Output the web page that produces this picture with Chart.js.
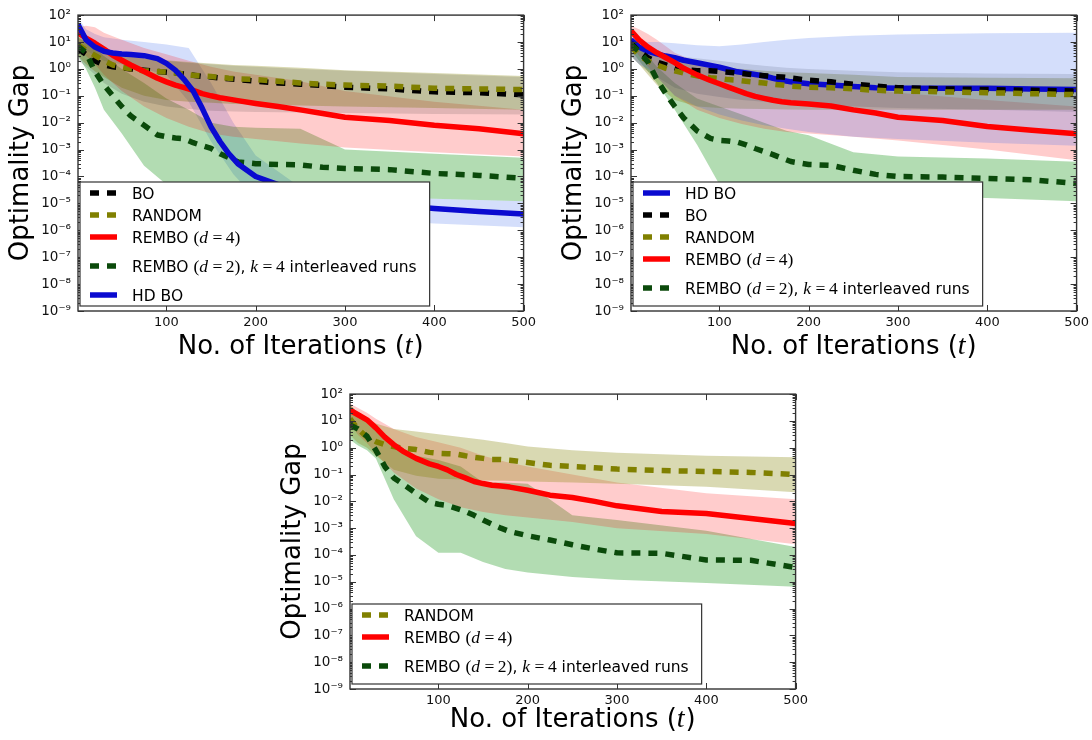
<!DOCTYPE html>
<html>
<head>
<meta charset="utf-8">
<script src="https://cdn.jsdelivr.net/npm/chart.js@4.4.1/dist/chart.umd.min.js"></script>
<style>
  body { margin: 0; background: #fff; width: 1092px; height: 740px; position: relative; overflow: hidden; }
  canvas { position: absolute; }
</style>
</head>
<body>
<canvas id="c1" width="540" height="370" style="left:0;top:0"></canvas>
<canvas id="c2" width="540" height="370" style="left:553px;top:0"></canvas>
<canvas id="c3" width="540" height="361" style="left:272px;top:379px"></canvas>
<script>
// iterations for the mean curves and for the percentile bands
var X  = [1, 10, 20, 30, 40, 50, 60, 75, 90, 100, 110, 120, 130, 140, 150, 160, 170, 180, 200, 225, 250, 275, 300, 350, 400, 450, 500];
var XB = [1, 10, 20, 30, 50, 75, 100, 125, 150, 175, 200, 250, 300, 400, 500];
var X_TICKS = [100, 200, 300, 400, 500];
var Y_EXP = [-9, -8, -7, -6, -5, -4, -3, -2, -1, 0, 1, 2];

var L_HDBO = 'HD BO', L_BO = 'BO', L_RANDOM = 'RANDOM';
var L_REMBO4 = 'REMBO $(d=4)$';
var L_REMBO2 = 'REMBO $(d=2)$, $k=4$ interleaved runs';

// top left
var A_BO      = [5.5, 3.5, 2, 1.4, 1.2, 1.1, 1.0, 0.9, 0.8, 0.75, 0.7, 0.64, 0.58, 0.53, 0.5, 0.46, 0.43, 0.4, 0.35, 0.3, 0.27, 0.24, 0.21, 0.18, 0.14, 0.13, 0.11];
var A_RANDOM  = [8, 5, 3.2, 2, 1.4, 1.15, 1, 0.85, 0.8, 0.77, 0.7, 0.63, 0.58, 0.55, 0.52, 0.48, 0.45, 0.43, 0.4, 0.35, 0.3, 0.27, 0.25, 0.23, 0.19, 0.18, 0.17];
var A_REMBO4  = [22, 14, 9, 5.5, 3.2, 2.1, 1.4, 0.8, 0.45, 0.33, 0.25, 0.2, 0.16, 0.12, 0.1, 0.085, 0.075, 0.066, 0.052, 0.04, 0.03, 0.022, 0.016, 0.012, 0.008, 0.006, 0.0039];
var A_REMBO2  = [7, 4, 0.8, 0.25, 0.1, 0.04, 0.018, 0.008, 0.0035, 0.003, 0.0027, 0.0025, 0.0018, 0.0014, 0.0011, 7e-4, 5e-4, 3.5e-4, 3e-4, 2.8e-4, 2.7e-4, 2.2e-4, 2e-4, 1.8e-4, 1.3e-4, 1.1e-4, 8.5e-5];
var A_HDBO    = [45, 12, 6.5, 4.5, 3.9, 3.6, 3.4, 3.1, 2.4, 1.6, 0.9, 0.4, 0.15, 0.035, 0.007, 0.002, 7e-4, 3e-4, 1e-4, 5e-5, 3e-5, 2e-5, 1.5e-5, 9e-6, 6.5e-6, 5e-6, 4e-6];
var A_BO_HI     = [15, 9, 6, 4.5, 3, 2.4, 2, 1.7, 1.5, 1.3, 1.2, 1, 0.85, 0.65, 0.5];
var A_BO_LO     = [2, 1.2, 0.6, 0.3, 0.12, 0.06, 0.04, 0.032, 0.028, 0.026, 0.025, 0.024, 0.023, 0.021, 0.02];
var A_RANDOM_HI = [20, 10, 6, 4.5, 3.2, 2.5, 2.1, 1.8, 1.6, 1.4, 1.3, 1.1, 0.9, 0.7, 0.55];
var A_RANDOM_LO = [3, 1.5, 0.8, 0.5, 0.2, 0.1, 0.07, 0.06, 0.055, 0.05, 0.048, 0.044, 0.04, 0.035, 0.03];
var A_REMBO4_HI = [35, 40, 35, 22, 12, 6, 3.5, 2, 1.2, 0.8, 0.6, 0.35, 0.15, 0.06, 0.03];
var A_REMBO4_LO = [6, 3, 1.5, 0.6, 0.15, 0.04, 0.015, 0.007, 0.004, 0.003, 0.0025, 0.0017, 0.0012, 8e-4, 5.5e-4];
var A_REMBO2_HI = [15, 10, 6, 3, 1, 0.3, 0.08, 0.03, 0.01, 0.007, 0.0065, 0.006, 0.001, 7e-4, 5e-4];
var A_REMBO2_LO = [3, 1, 0.2, 0.03, 0.004, 2.5e-4, 5e-5, 3.5e-5, 3e-5, 2.7e-5, 2.5e-5, 2.2e-5, 2e-5, 1.5e-5, 1.2e-5];
var A_HDBO_HI   = [80, 30, 20, 15, 12, 10, 8, 6, 0.3, 0.01, 6e-4, 4e-5, 2.5e-5, 1.5e-5, 1.2e-5];
var A_HDBO_LO   = [20, 5, 3, 2, 1.5, 1, 0.6, 0.06, 0.002, 1.2e-4, 1.5e-5, 5e-6, 3e-6, 1.8e-6, 1.3e-6];

// top right
var B_HDBO    = [12, 6.5, 4.5, 3.6, 3, 2.6, 2.1, 1.7, 1.35, 1.15, 0.95, 0.78, 0.7, 0.62, 0.55, 0.45, 0.38, 0.33, 0.28, 0.25, 0.22, 0.2, 0.19, 0.19, 0.19, 0.18, 0.17];
var B_BO      = [9, 4.5, 2.6, 1.8, 1.4, 1.1, 0.95, 0.85, 0.85, 0.8, 0.75, 0.7, 0.65, 0.6, 0.56, 0.52, 0.5, 0.46, 0.38, 0.33, 0.27, 0.23, 0.2, 0.18, 0.17, 0.16, 0.15];
var B_RANDOM  = [7, 3.2, 2, 1.4, 1.05, 0.85, 0.7, 0.55, 0.47, 0.44, 0.4, 0.38, 0.35, 0.32, 0.3, 0.27, 0.25, 0.23, 0.21, 0.2, 0.18, 0.16, 0.15, 0.14, 0.13, 0.12, 0.11];
var B_REMBO4  = [26, 12, 6.5, 4, 2.6, 1.7, 1.05, 0.6, 0.37, 0.28, 0.21, 0.16, 0.12, 0.095, 0.08, 0.068, 0.06, 0.055, 0.05, 0.042, 0.03, 0.023, 0.016, 0.012, 0.0072, 0.0052, 0.0039];
var B_REMBO2  = [8, 4.5, 1.8, 0.4, 0.12, 0.04, 0.015, 0.005, 0.0026, 0.0022, 0.0021, 0.0019, 0.0015, 0.0011, 8.5e-4, 6.5e-4, 4.8e-4, 3.6e-4, 2.8e-4, 2.6e-4, 1.7e-4, 1.2e-4, 1e-4, 9.5e-5, 8.5e-5, 7.5e-5, 5.5e-5];
var B_HDBO_HI   = [12, 11, 10, 10, 9, 7.5, 7, 8, 10, 12, 14, 17, 19, 21, 22];
var B_HDBO_LO   = [3, 1.5, 1, 0.5, 0.1, 0.04, 0.02, 0.012, 0.008, 0.006, 0.0045, 0.003, 0.0025, 0.0018, 0.0014];
var B_BO_HI     = [10, 8, 6, 4.5, 3, 2.5, 2, 1.6, 1.3, 1.1, 1, 0.85, 0.75, 0.68, 0.65];
var B_BO_LO     = [3, 1.5, 0.8, 0.5, 0.2, 0.12, 0.09, 0.07, 0.06, 0.05, 0.045, 0.04, 0.035, 0.03, 0.025];
var B_RANDOM_HI = [15, 8, 5, 3.5, 2, 1.5, 1.2, 1, 0.85, 0.75, 0.7, 0.6, 0.5, 0.47, 0.45];
var B_RANDOM_LO = [3, 1.5, 0.6, 0.25, 0.07, 0.04, 0.035, 0.033, 0.032, 0.031, 0.03, 0.03, 0.03, 0.03, 0.03];
var B_REMBO4_HI = [40, 30, 20, 12, 4, 1.8, 1, 0.7, 0.5, 0.38, 0.3, 0.2, 0.13, 0.07, 0.04];
var B_REMBO4_LO = [8, 3, 1.2, 0.5, 0.1, 0.03, 0.015, 0.009, 0.006, 0.0045, 0.004, 0.003, 0.0022, 0.001, 4e-4];
var B_REMBO2_HI = [15, 8, 3, 1.2, 0.3, 0.08, 0.04, 0.02, 0.01, 0.005, 0.0034, 8e-4, 5.5e-4, 4.7e-4, 3.5e-4];
var B_REMBO2_LO = [5, 2, 0.8, 0.3, 0.03, 1.5e-3, 5e-5, 3e-5, 2.5e-5, 2.2e-5, 2e-5, 1.9e-5, 1.8e-5, 1.6e-5, 1.2e-5];

// bottom
var C_RANDOM  = [12, 5, 2.5, 1.7, 1.3, 1.1, 0.95, 0.85, 0.67, 0.62, 0.6, 0.58, 0.5, 0.44, 0.4, 0.36, 0.36, 0.34, 0.28, 0.22, 0.2, 0.18, 0.16, 0.14, 0.13, 0.12, 0.1];
var C_REMBO4  = [25, 17, 11, 5.5, 2.5, 1.3, 0.75, 0.4, 0.25, 0.2, 0.15, 0.1, 0.075, 0.055, 0.046, 0.04, 0.037, 0.034, 0.026, 0.017, 0.014, 0.01, 0.0068, 0.0042, 0.0035, 0.0023, 0.0015];
var C_REMBO2  = [7, 5, 2.7, 0.8, 0.2, 0.075, 0.045, 0.02, 0.0092, 0.0078, 0.007, 0.0055, 0.0042, 0.003, 0.002, 0.0014, 0.001, 7.5e-4, 5.2e-4, 3.6e-4, 2.4e-4, 1.65e-4, 1.2e-4, 1.15e-4, 6.5e-5, 6.3e-5, 3.4e-5];
var C_RANDOM_HI = [40, 20, 12, 8, 5, 4, 3.2, 2.5, 2, 1.5, 1.1, 0.8, 0.65, 0.5, 0.44];
var C_RANDOM_LO = [3, 1.5, 1, 0.5, 0.15, 0.09, 0.07, 0.065, 0.06, 0.058, 0.055, 0.05, 0.045, 0.035, 0.022];
var C_REMBO4_HI = [45, 30, 20, 12, 5, 2.5, 1.6, 1, 0.5, 0.3, 0.2, 0.1, 0.05, 0.02, 0.012];
var C_REMBO4_LO = [8, 3, 1.5, 0.6, 0.12, 0.03, 0.012, 0.006, 0.004, 0.003, 0.0025, 0.0017, 0.001, 6e-4, 2.5e-4];
var C_REMBO2_HI = [40, 20, 10, 4, 1.5, 0.5, 0.35, 0.2, 0.05, 0.05, 0.045, 0.003, 0.002, 8e-4, 2e-4];
var C_REMBO2_LO = [2, 1.2, 0.8, 0.4, 0.012, 5e-4, 1.2e-4, 1.2e-4, 5.5e-5, 3e-5, 2.2e-5, 1.5e-5, 1.2e-5, 9e-6, 6.5e-6];

var STYLE = {};
STYLE[L_HDBO]   = { color: '#0a0ad0', band: 'rgba(40,90,235,0.2)', dash: [] };
STYLE[L_BO]     = { color: '#000000', band: 'rgba(0,0,0,0.12)', dash: [9, 8] };
STYLE[L_RANDOM] = { color: '#808000', band: 'rgba(128,128,0,0.3)', dash: [9, 8] };
STYLE[L_REMBO4] = { color: '#ff0000', band: 'rgba(255,0,0,0.2)', dash: [] };
STYLE[L_REMBO2] = { color: '#0b4a0b', band: 'rgba(0,140,0,0.3)', dash: [9, 8] };

var SUP = { '-': '\u207b', '0': '\u2070', '1': '\u00b9', '2': '\u00b2', '3': '\u00b3', '4': '\u2074',
            '5': '\u2075', '6': '\u2076', '7': '\u2077', '8': '\u2078', '9': '\u2079' };

function pts(xs, ys) {
  return xs.map(function(x, i) { return { x: x, y: ys[i] }; });
}

// split "text $math$ text" into runs with their own fonts
function richParts(text, size, mathSize) {
  var parts = [];
  text.split('$').forEach(function(s, i) {
    if (!s) return;
    if (i % 2 === 0) { parts.push({ t: s, font: size + 'px "DejaVu Sans"', pad: 0 }); return; }
    s.split('').forEach(function(c) {
      if (/[a-z]/i.test(c)) parts.push({ t: c, font: 'italic ' + mathSize + 'px "Liberation Serif"', pad: 0, it: 1 });
      else parts.push({ t: c, font: mathSize + 'px "Liberation Serif"', pad: c === '=' ? mathSize * 0.2 : 0 });
    });
  });
  return parts;
}
function richWidth(ctx, parts) {
  var w = 0;
  parts.forEach(function(p) { ctx.font = p.font; w += ctx.measureText(p.t).width + 2 * p.pad + (p.it ? 1 : 0); });
  return w;
}
function drawRich(ctx, parts, x, base) {
  parts.forEach(function(p) {
    ctx.font = p.font;
    x += p.pad;
    ctx.fillText(p.t, x, base);
    x += ctx.measureText(p.t).width + p.pad + (p.it ? 1 : 0);
  });
}

var frame = {
  id: 'frame',
  afterDatasetsDraw: function(chart) {
    var ctx = chart.ctx, a = chart.chartArea, xs = chart.scales.x, ys = chart.scales.y;
    ctx.save();
    ctx.strokeStyle = '#333';
    ctx.lineWidth = 1;
    ctx.beginPath();
    xs.ticks.forEach(function(t) {
      var px = Math.round(xs.getPixelForValue(t.value)) + 0.5;
      ctx.moveTo(px, a.bottom); ctx.lineTo(px, a.bottom - 6);
      ctx.moveTo(px, a.top); ctx.lineTo(px, a.top + 6);
    });
    ys.ticks.forEach(function(t) {
      var py = Math.round(ys.getPixelForValue(t.value)) + 0.5, len = t.major ? 6 : 3;
      ctx.moveTo(a.left, py); ctx.lineTo(a.left + len, py);
      ctx.moveTo(a.right, py); ctx.lineTo(a.right - len, py);
    });
    ctx.stroke();
    ctx.lineWidth = 1.4;
    ctx.strokeRect(a.left, a.top, a.right - a.left, a.bottom - a.top);
    ctx.restore();
  }
};

var legendBox = {
  id: 'legendBox',
  afterDatasetsDraw: function(chart) {
    var ctx = chart.ctx, a = chart.chartArea;
    var rows = chart.data.datasets.filter(function(d) { return !d.isBand; }).map(function(d) {
      return { d: d, parts: richParts(d.label, 15.5, 17.5), h: d.label.indexOf('$') >= 0 ? 29 : 22 };
    });
    var textX = 52, maxW = 0, h = 0;
    rows.forEach(function(r) { maxW = Math.max(maxW, richWidth(ctx, r.parts)); h += r.h; });
    var w = textX + maxW + 13;
    var x0 = a.left + 2, y0 = a.bottom - 5 - h;
    ctx.save();
    ctx.fillStyle = '#fff';
    ctx.fillRect(x0, y0, w, h);
    ctx.strokeStyle = '#333';
    ctx.lineWidth = 1.2;
    ctx.strokeRect(x0, y0, w, h);
    var y = y0;
    rows.forEach(function(r) {
      var cy = y + 11;
      ctx.strokeStyle = r.d.borderColor;
      ctx.lineWidth = r.d.borderWidth;
      ctx.lineCap = 'butt';
      ctx.setLineDash(r.d.borderDash || []);
      ctx.beginPath();
      ctx.moveTo(x0 + 10, cy); ctx.lineTo(x0 + 37, cy);
      ctx.stroke();
      ctx.setLineDash([]);
      ctx.fillStyle = '#000';
      ctx.textBaseline = 'alphabetic';
      drawRich(ctx, r.parts, x0 + textX, cy + 5.6);
      y += r.h;
    });
    ctx.restore();
  }
};

var xTitle = {
  id: 'xTitle',
  afterDraw: function(chart, args, opts) {
    var ctx = chart.ctx, a = chart.chartArea;
    var parts = richParts(opts.text, 26, 28);
    var w = richWidth(ctx, parts);
    ctx.save();
    ctx.fillStyle = '#000';
    ctx.textBaseline = 'alphabetic';
    drawRich(ctx, parts, (a.left + a.right) / 2 - w / 2, a.bottom + opts.offset + 9.4);
    ctx.restore();
  }
};

function makeChart(id, series, xh, tOff) {
  var datasets = [];
  series.forEach(function(s) {
    var st = STYLE[s[0]];
    datasets.push({ label: s[0], isBand: true, data: pts(XB, s[2]), borderColor: 'rgba(0,0,0,0)',
      borderWidth: 0, pointRadius: 0, fill: false, order: 100, clip: 0 });
    datasets.push({ label: s[0], isBand: true, data: pts(XB, s[3]), borderColor: 'rgba(0,0,0,0)',
      borderWidth: 0, pointRadius: 0, fill: '-1', backgroundColor: st.band, order: 100, clip: 0 });
  });
  series.forEach(function(s, i) {
    var st = STYLE[s[0]];
    datasets.push({ label: s[0], data: pts(X, s[1]), borderColor: st.color, borderWidth: 5.5,
      borderDash: st.dash, borderCapStyle: 'butt', borderJoinStyle: 'round', pointRadius: 0,
      fill: false, tension: 0, order: series.length - i, clip: 0 });
  });

  new Chart(document.getElementById(id), {
    type: 'line',
    data: { datasets: datasets },
    plugins: [frame, legendBox, xTitle],
    options: {
      responsive: false,
      animation: false,
      events: [],
      layout: { padding: { left: 0, right: 15, top: 12, bottom: 0 } },
      plugins: {
        legend: { display: false },
        tooltip: { enabled: false },
        xTitle: { text: 'No. of Iterations ($t$)', offset: tOff }
      },
      scales: {
        x: {
          type: 'linear', min: 1, max: 500,
          afterBuildTicks: function(s) { s.ticks = X_TICKS.map(function(v) { return { value: v }; }); },
          afterFit: function(s) { s.height = xh; },
          grid: { display: false, drawTicks: false },
          border: { display: false },
          ticks: { font: { family: 'DejaVu Sans', size: 13 }, color: '#111', padding: 4, maxRotation: 0, autoSkip: false }
        },
        y: {
          type: 'logarithmic', min: 1e-9, max: 100,
          afterBuildTicks: function(s) {
            var t = [];
            Y_EXP.forEach(function(e, k) {
              t.push({ value: Math.pow(10, e), major: true });
              if (k < Y_EXP.length - 1) for (var m = 2; m < 10; m++) t.push({ value: m * Math.pow(10, e), major: false });
            });
            s.ticks = t;
          },
          afterFit: function(s) { s.width = 78; },
          grid: { display: false, drawTicks: false },
          border: { display: false },
          ticks: {
            font: { family: 'DejaVu Sans', size: 13.5 }, color: '#111', padding: 7, autoSkip: false,
            callback: function(v) {
              var e = Math.log10(v), r = Math.round(e);
              if (Math.abs(e - r) > 1e-6) return '';
              return '10' + String(r).split('').map(function(c) { return SUP[c]; }).join('');
            }
          },
          title: { display: true, text: 'Optimality Gap', color: '#000',
                   font: { family: 'DejaVu Sans', size: 26 }, padding: { top: 6, bottom: 0 } }
        }
      }
    }
  });
}

makeChart('c1', [
  [L_BO, A_BO, A_BO_LO, A_BO_HI],
  [L_RANDOM, A_RANDOM, A_RANDOM_LO, A_RANDOM_HI],
  [L_REMBO4, A_REMBO4, A_REMBO4_LO, A_REMBO4_HI],
  [L_REMBO2, A_REMBO2, A_REMBO2_LO, A_REMBO2_HI],
  [L_HDBO, A_HDBO, A_HDBO_LO, A_HDBO_HI]
], 59, 34);

makeChart('c2', [
  [L_HDBO, B_HDBO, B_HDBO_LO, B_HDBO_HI],
  [L_BO, B_BO, B_BO_LO, B_BO_HI],
  [L_RANDOM, B_RANDOM, B_RANDOM_LO, B_RANDOM_HI],
  [L_REMBO4, B_REMBO4, B_REMBO4_LO, B_REMBO4_HI],
  [L_REMBO2, B_REMBO2, B_REMBO2_LO, B_REMBO2_HI]
], 59, 34);

makeChart('c3', [
  [L_RANDOM, C_RANDOM, C_RANDOM_LO, C_RANDOM_HI],
  [L_REMBO4, C_REMBO4, C_REMBO4_LO, C_REMBO4_HI],
  [L_REMBO2, C_REMBO2, C_REMBO2_LO, C_REMBO2_HI]
], 51, 29);
</script>
</body>
</html>
